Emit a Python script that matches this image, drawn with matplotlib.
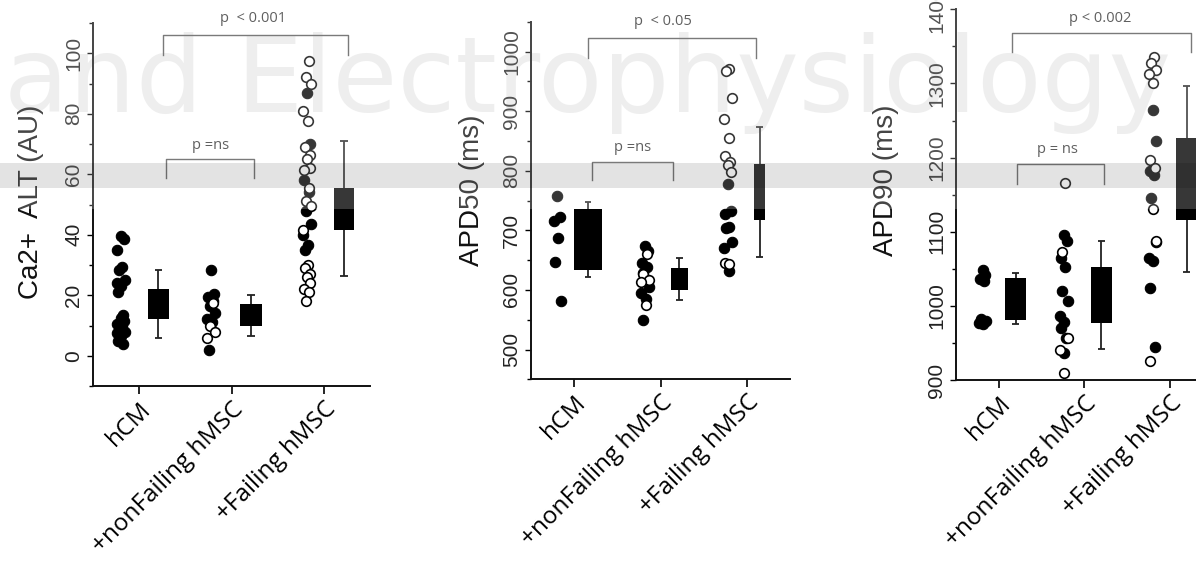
import matplotlib
matplotlib.use("Agg")
import matplotlib.pyplot as plt
from matplotlib.patches import Rectangle
from matplotlib.ticker import MultipleLocator

# ---------------- data ----------------
categories = ["hCM", "+nonFailing hMSC", "+Failing hMSC"]

# Ca2+ ALT (AU)
ca_hcm_filled = [39.5, 38.5, 35, 29.5, 28.5, 25, 24, 23, 21, 13.5, 12.5, 11.5, 10.5, 9.5, 8.5, 8, 7.5, 6.5, 5, 4]
ca_hcm_open = []
ca_nonf_filled = [28.5, 20.5, 19.5, 18, 16.5, 14, 12, 11, 2]
ca_nonf_open = [17.5, 10, 8, 6]
ca_fail_filled = [87, 70, 58, 54, 48, 43.5, 40, 36.5, 35]
ca_fail_open = [97.5, 92, 90, 81, 77.5, 69, 66.5, 65, 62, 61.5, 55.5, 51, 49.5, 41.5, 30, 29, 27, 26, 24, 22, 21, 18]
ca_q1 = [12, 10, 41.5]
ca_q3 = [22, 17, 55.5]
ca_lo = [6, 6.5, 26.5]
ca_hi = [28.5, 20, 71]

# APD50 (ms)
a50_hcm_filled = [758, 722, 716, 687, 647, 581]
a50_hcm_open = []
a50_nonf_filled = [673, 665, 645, 638, 628, 605, 595, 585, 550]
a50_nonf_open = [660, 627, 617, 613, 575]
a50_fail_filled = [778, 733, 728, 706, 704, 680, 670, 632]
a50_fail_open = [970, 968, 922, 887, 855, 825, 815, 810, 797, 645, 644]
a50_q1 = [633, 599, 716.5]
a50_q3 = [735, 636.5, 811.5]
a50_lo = [621.5, 582.5, 655]
a50_hi = [747, 653.5, 874]

# APD90 (ms)
a90_hcm_filled = [1048, 1042, 1036, 1033, 982, 979, 977, 975]
a90_hcm_open = []
a90_nonf_filled = [1095, 1088, 1065, 1052, 1020, 1007, 986, 978, 970, 957, 936]
a90_nonf_open = [1166, 1072, 957, 941, 909]
a90_fail_filled = [1264, 1222, 1182, 1177, 1146, 1086, 1064, 1061, 1024, 945]
a90_fail_open = [1336, 1328, 1318, 1313, 1300, 1197, 1186, 1131, 1087, 925]
a90_q1 = [980.5, 977, 1116]
a90_q3 = [1037, 1053, 1226]
a90_lo = [975, 942, 1046]
a90_hi = [1044.5, 1087, 1296]

p_labels_main = ["p  < 0.001", "p  < 0.05", "p < 0.002"]
p_labels_ns = ["p =ns", "p =ns", "p = ns"]

# ---------------- figure ----------------
W, H = 1196, 562
fig = plt.figure(figsize=(W / 100, H / 100), dpi=100)
fig.patch.set_facecolor("white")

# watermark (light text printed behind the figure in the reference)
fig.text(4 / W, 1 - 112 / H, "and Electrophysiology", fontsize=76,
         family="DejaVu Sans", color="#eaeaea", ha="left",
         va="baseline", zorder=-10)


def px_axes(l, r, b, t):
    return fig.add_axes([l / W, 1 - b / H, (r - l) / W, (b - t) / H])


JIT = [0.0, 0.035, -0.035, 0.018, -0.018, 0.045, -0.045, 0.008, -0.028, 0.028]


def panel(ax, filled, opened, pt_x, box_x, box_w, q1, q3, lo, hi,
          ylim, major, minor, ylabel, lab_xy, br_main, br_ns):
    ax.set_facecolor("none")
    for g in range(3):
        f = filled[g]
        o = opened[g]
        xs_f = [pt_x[g] + JIT[i % len(JIT)] for i in range(len(f))]
        xs_o = [pt_x[g] + JIT[(i + 3) % len(JIT)] for i in range(len(o))]
        if f:
            ax.scatter(xs_f, f, s=56, facecolors="black", edgecolors="black",
                       linewidths=0.8, zorder=3, clip_on=False)
        if o:
            ax.scatter(xs_o, o, s=48, facecolors="white", edgecolors="black",
                       linewidths=1.2, zorder=4, clip_on=False)
        # box + whiskers
        h = q3[g] - q1[g]
        ax.bar(box_x[g], h, bottom=q1[g], width=box_w[g], color="black",
               zorder=2)
        ax.vlines(box_x[g], lo[g], q1[g], color="#222222", lw=1.3, zorder=1)
        ax.vlines(box_x[g], q3[g], hi[g], color="#222222", lw=1.3, zorder=1)
        cw = 0.04
        ax.hlines([lo[g], hi[g]], box_x[g] - cw, box_x[g] + cw,
                  color="#222222", lw=1.3, zorder=1)

    ax.set_xlim(-0.5, 2.5)
    ax.set_ylim(*ylim)
    ax.yaxis.set_major_locator(MultipleLocator(major))
    ax.yaxis.set_minor_locator(MultipleLocator(minor))
    ax.set_xticks([0, 1, 2])
    ax.set_xticklabels(categories, rotation=45, ha="right",
                       rotation_mode="anchor", fontsize=17.5,
                       family="Open Sans")
    for lab in ax.get_yticklabels():
        lab.set_rotation(90)
        lab.set_va("center")
        lab.set_family("Liberation Sans")
        lab.set_fontsize(15)
        lab.set_color("#222222")
    ax.tick_params(axis="x", length=6, width=1.2, pad=2, direction="out")
    ax.tick_params(axis="y", which="major", length=4, width=1.0, pad=3,
                   direction="out")
    ax.tick_params(axis="y", which="minor", length=3, width=1.0)
    for s in ["top", "right"]:
        ax.spines[s].set_visible(False)
    for s in ["left", "bottom"]:
        ax.spines[s].set_linewidth(1.4)
        ax.spines[s].set_color("#111111")
    ax.set_ylabel(ylabel, fontsize=20, family="Liberation Sans",
                  color="#111111")
    ax.yaxis.set_label_coords(*lab_xy)

    for (x0, x1, yh, yl, tx, ty, txt) in (br_main, br_ns):
        ax.plot([x0, x0, x1, x1], [yl, yh, yh, yl], color="#555555", lw=1.0,
                clip_on=False, zorder=5)
        ax.text(tx, ty, txt, ha="center", va="center", fontsize=10.5,
                family="Open Sans", color="#333333", clip_on=False)


ax1 = px_axes(93, 370, 386, 23)
ax2 = px_axes(531, 790, 379.3, 21.7)
ax3 = px_axes(956, 1212.5, 380, 9.3)

panel(ax1,
      [ca_hcm_filled, ca_nonf_filled, ca_fail_filled],
      [ca_hcm_open, ca_nonf_open, ca_fail_open],
      [-0.2, 0.78, 1.82], [0.207, 1.21, 2.22], [0.23, 0.23, 0.22],
      ca_q1, ca_q3, ca_lo, ca_hi,
      (-10, 110), 20, 10, "Ca2+  ALT (AU)", (-0.177, 0.508),
      (0.26, 2.26, 106, 99.3, 1.23, 111.5, p_labels_main[0]),
      (0.29, 1.24, 65.2, 58.6, 0.77, 69.6, p_labels_ns[0]))

panel(ax2,
      [a50_hcm_filled, a50_nonf_filled, a50_fail_filled],
      [a50_hcm_open, a50_nonf_open, a50_fail_open],
      [-0.2, 0.82, 1.78], [0.16, 1.22, 2.15], [0.33, 0.19, 0.13],
      a50_q1, a50_q3, a50_lo, a50_hi,
      (450, 1050), 100, 50, "APD50 (ms)", (-0.178, 0.53),
      (0.165, 2.11, 1022.6, 989, 1.03, 1050.4, p_labels_main[1]),
      (0.21, 1.14, 815, 783.6, 0.68, 839, p_labels_ns[1]))

panel(ax3,
      [a90_hcm_filled, a90_nonf_filled, a90_fail_filled],
      [a90_hcm_open, a90_nonf_open, a90_fail_open],
      [-0.19, 0.76, 1.8], [0.2, 1.2, 2.2], [0.245, 0.245, 0.245],
      a90_q1, a90_q3, a90_lo, a90_hi,
      (900, 1400), 100, 50, "APD90 (ms)", (-0.222, 0.54),
      (0.16, 2.25, 1368.5, 1342, 1.19, 1387, p_labels_main[2]),
      (0.21, 1.23, 1192, 1165, 0.69, 1211, p_labels_ns[2]))

# lightened upper area and grey band (as in the reference scan)
fig.add_artist(Rectangle((0, 1 - 209 / H), 1, 209 / H,
                         transform=fig.transFigure, facecolor="white",
                         edgecolor="none", alpha=0.22, zorder=50))
fig.add_artist(Rectangle((0, 1 - 188 / H), 1, 25 / H,
                         transform=fig.transFigure, facecolor="black",
                         edgecolor="none", alpha=0.11, zorder=51))

fig.savefig("out.png", dpi=100)
